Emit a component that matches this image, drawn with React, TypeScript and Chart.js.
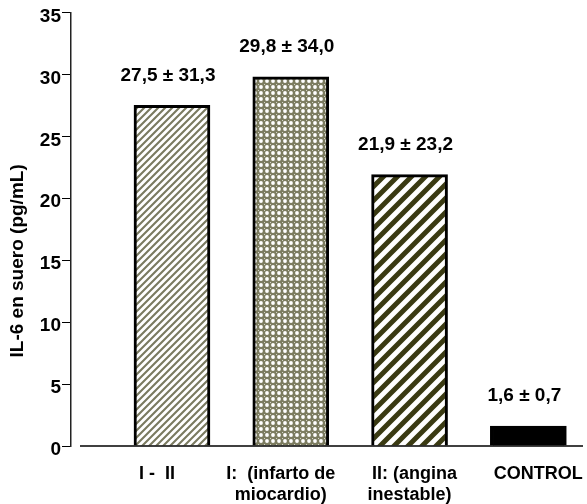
import React, { useEffect, useRef } from 'react';
import { Chart, registerables } from 'chart.js';

Chart.register(...registerables);

// ---- data ----
const categories: string[][] = [
  ['I -  II      '],
  ['I:  (infarto de    ', 'miocardio)    '],
  ['  II: (angina', 'inestable)'],
  ['    CONTROL'],
];
const positions = [1, 2, 3, 4];
const means = [27.5, 29.8, 21.9, 1.6];
const sds = [31.3, 34.0, 23.2, 0.7];
const yTicks = [0, 5, 10, 15, 20, 25, 30, 35];
const yTitle = 'IL-6 en suero (pg/mL)            ';

const FONT = '"Liberation Sans", Arial, Helvetica, sans-serif';

function fmt(v: number) {
  return v.toFixed(1).replace('.', ',');
}

function makePattern(kind: string): CanvasPattern | string {
  const c = document.createElement('canvas');
  const g = c.getContext('2d');
  if (!g) return '#777';
  if (kind === 'fine') {
    const s = 7;
    c.width = s; c.height = s;
    g.fillStyle = '#ffffff';
    g.fillRect(0, 0, s, s);
    g.strokeStyle = '#7a7a60';
    g.lineWidth = 2.1;
    g.beginPath();
    g.moveTo(-1, s + 1); g.lineTo(s + 1, -1);
    g.moveTo(-1 - s, s + 1); g.lineTo(1, -1);
    g.moveTo(s - 1, s + 1); g.lineTo(2 * s + 1, -1);
    g.stroke();
  } else if (kind === 'dots') {
    const s = 6;
    c.width = s; c.height = s;
    g.fillStyle = '#7c7c60';
    g.fillRect(0, 0, s, s);
    g.fillStyle = '#ffffff';
    g.beginPath();
    g.arc(s / 2, s / 2, 1.9, 0, Math.PI * 2);
    g.fill();
    g.fillStyle = '#d6d6c8';
    g.fillRect(0, 0, 1, 1);
  } else {
    const s = 14;
    c.width = s; c.height = s;
    g.fillStyle = '#ffffff';
    g.fillRect(0, 0, s, s);
    g.strokeStyle = '#3a3a12';
    g.lineWidth = 5;
    g.beginPath();
    g.moveTo(-2, s + 2); g.lineTo(s + 2, -2);
    g.moveTo(-2 - s, s + 2); g.lineTo(2, -2);
    g.moveTo(s - 2, s + 2); g.lineTo(2 * s + 2, -2);
    g.stroke();
  }
  const p = g.createPattern(c, 'repeat');
  return p || '#777';
}

const annotPlugin = {
  id: 'annot',
  afterDatasetsDraw(chart: any) {
    const { ctx, chartArea } = chart;
    const yScale = chart.scales.y;
    const y0 = yScale.getPixelForValue(0);
    ctx.save();
    ctx.strokeStyle = '#000';
    ctx.lineWidth = 1.5;
    ctx.beginPath();
    ctx.moveTo(chartArea.left + 9, y0);
    ctx.lineTo(chartArea.right, y0);
    ctx.stroke();
    const meta = chart.getDatasetMeta(0);
    ctx.font = 'bold 19px ' + FONT;
    ctx.textAlign = 'center';
    ctx.textBaseline = 'middle';
    ctx.fillStyle = '#000';
    meta.data.forEach((bar: any, i: number) => {
      ctx.fillText(fmt(means[i]) + ' ± ' + fmt(sds[i]), bar.x - 4, bar.y - 30);
    });
    ctx.restore();
  },
};

export default function App() {
  const ref = useRef<HTMLCanvasElement | null>(null);

  useEffect(() => {
    document.body.style.margin = '0';
    document.body.style.overflow = 'hidden';
    const canvas = ref.current;
    if (!canvas) return;
    const fills = [makePattern('fine'), makePattern('dots'), makePattern('wide'), '#000000'];
    const chart = new Chart(canvas, {
      type: 'bar',
      data: {
        datasets: [
          {
            data: positions.map((x, i) => ({ x, y: means[i] })) as any,
            backgroundColor: fills as any,
            borderColor: '#000',
            borderWidth: 3,
            barThickness: 76,
          },
        ],
      },
      options: {
        animation: false,
        responsive: true,
        maintainAspectRatio: false,
        layout: { padding: { top: 10, right: 4, left: 0, bottom: 0 } },
        plugins: {
          legend: { display: false },
          tooltip: { enabled: false },
        },
        scales: {
          x: {
            type: 'linear',
            offset: false,
            min: 0.15,
            max: 4.46,
            afterBuildTicks: (scale: any) => {
              scale.ticks = positions.map((v) => ({ value: v }));
            },
            afterFit: (scale: any) => {
              scale.height = 58;
              scale.paddingLeft = 0;
              scale.paddingRight = 0;
            },
            ticks: {
              autoSkip: false,
              maxRotation: 0,
              padding: 9,
              color: '#000',
              font: { family: FONT, size: 18, weight: 'bold', lineHeight: 1.2 },
              callback: (v: any) => {
                const i = positions.indexOf(Number(v));
                return i >= 0 ? categories[i] : '';
              },
            },
            grid: { display: false },
            border: { display: false },
          },
          y: {
            min: 0,
            max: 35,
            afterBuildTicks: (scale: any) => {
              scale.ticks = yTicks.map((v) => ({ value: v }));
            },
            afterFit: (scale: any) => {
              scale.width = 71;
            },
            ticks: {
              color: '#000',
              padding: 1,
              labelOffset: 4,
              font: { family: FONT, size: 19, weight: 'bold' },
            },
            grid: {
              display: true,
              drawOnChartArea: false,
              drawTicks: true,
              tickLength: 9,
              color: '#000',
              lineWidth: 1,
            },
            border: { display: true, color: '#222', width: 1.5 },
            title: {
              display: true,
              text: yTitle,
              color: '#000',
              padding: { top: 6, bottom: 0 },
              font: { family: FONT, size: 19, weight: 'bold' },
            },
          },
        },
      },
      plugins: [annotPlugin],
    });
    return () => chart.destroy();
  }, []);

  return (
    <div style={{ width: 587, height: 504, position: 'relative' }}>
      <canvas ref={ref} />
    </div>
  );
}
